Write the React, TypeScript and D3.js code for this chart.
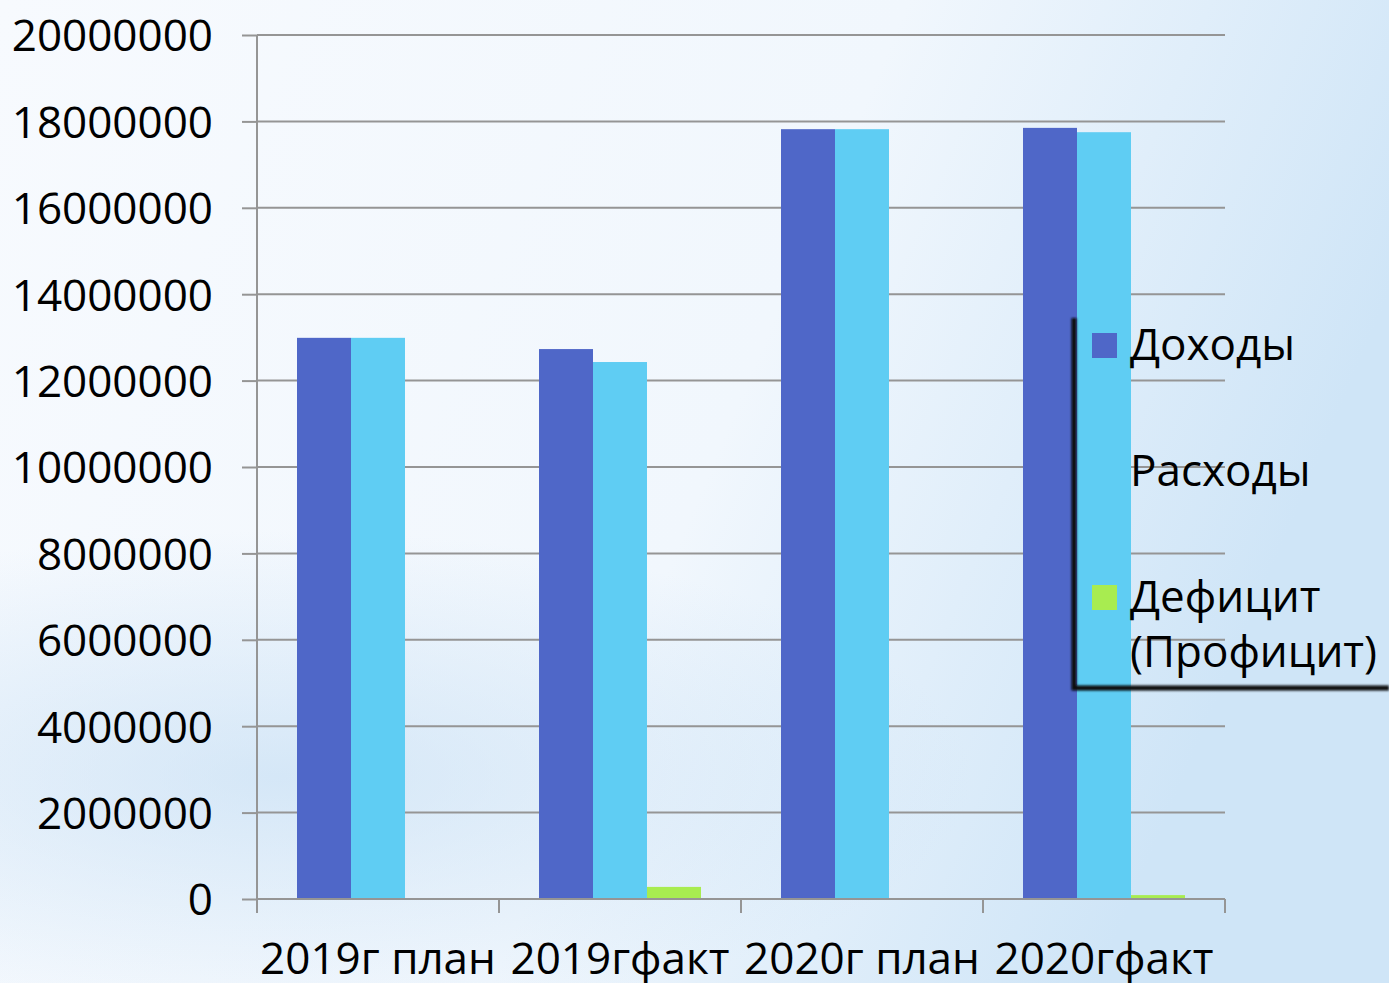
import React, { useEffect, useRef } from 'react';
import * as d3 from 'd3';

const categories = ['2019г план', '2019гфакт', '2020г план', '2020гфакт'];
const seriesNames = ['Доходы', 'Расходы', 'Дефицит (Профицит)'];
const incomes = [12990000, 12730000, 17820000, 17850000];
const expenses = [12990000, 12430000, 17820000, 17750000];
const deficit = [0, 280000, 0, 90000];
const yTicks = [0, 2000000, 4000000, 6000000, 8000000, 10000000, 12000000, 14000000, 16000000, 18000000, 20000000];
const colors = ['#4f67c8', '#5fcdf3', '#a8ec50'];

const W = 1389;
const H = 983;
const FONT = '"Open Sans", "Noto Sans", sans-serif';

export default function App() {
  const svgRef = useRef<SVGSVGElement>(null);

  useEffect(() => {
    if (!svgRef.current) return;
    const svg = d3.select(svgRef.current);
    svg.selectAll('*').remove();

    const margin = { top: 35, right: 164, bottom: 84, left: 257 };
    const innerW = W - margin.left - margin.right;
    const innerH = H - margin.top - margin.bottom;

    // background
    const defs = svg.append('defs');
    const bg = defs.append('linearGradient').attr('id', 'bg')
      .attr('x1', '0').attr('y1', '0').attr('x2', '1').attr('y2', '0.3');
    bg.append('stop').attr('offset', '0').attr('stop-color', '#f7fafe');
    bg.append('stop').attr('offset', '0.6').attr('stop-color', '#f1f7fd');
    bg.append('stop').attr('offset', '1').attr('stop-color', '#cfe5f7');
    const glow = defs.append('radialGradient').attr('id', 'glow')
      .attr('cx', '0.2').attr('cy', '0.78').attr('r', '0.5')
      .attr('gradientTransform', 'translate(0,0.4) scale(1,0.5)');
    glow.append('stop').attr('offset', '0').attr('stop-color', '#bcd9f2').attr('stop-opacity', 0.55);
    glow.append('stop').attr('offset', '1').attr('stop-color', '#bcd9f2').attr('stop-opacity', 0);
    const blur = defs.append('filter').attr('id', 'blur').attr('x', '-10%').attr('y', '-10%').attr('width', '120%').attr('height', '120%');
    blur.append('feGaussianBlur').attr('stdDeviation', 1.2);

    svg.append('rect').attr('width', W).attr('height', H).attr('fill', 'url(#bg)');
    svg.append('rect').attr('width', W).attr('height', H).attr('fill', 'url(#glow)');

    const x0 = d3.scaleBand().domain(categories).range([0, innerW]).paddingInner(0).paddingOuter(0);
    const groupPad = 40;
    const x1 = d3.scaleBand().domain(seriesNames).range([groupPad, x0.bandwidth() - groupPad]);
    const y = d3.scaleLinear().domain([0, 20000000]).range([innerH, 0]);

    const g = svg.append('g').attr('transform', `translate(${margin.left},${margin.top})`);

    // gridlines
    g.append('g').selectAll('line').data(yTicks).join('line')
      .attr('x1', 0).attr('x2', innerW)
      .attr('y1', d => y(d)).attr('y2', d => y(d))
      .attr('stroke', '#959595').attr('stroke-width', 2);

    // bars
    const values = [incomes, expenses, deficit];
    categories.forEach((c, i) => {
      seriesNames.forEach((s, j) => {
        const v = values[j][i];
        g.append('rect')
          .attr('x', (x0(c) || 0) + (x1(s) || 0))
          .attr('y', y(v))
          .attr('width', x1.bandwidth())
          .attr('height', innerH - y(v))
          .attr('fill', colors[j]);
      });
    });

    // y axis
    const yAxis = g.append('g').call(d3.axisLeft(y).tickValues(yTicks).tickSize(15).tickFormat(d3.format('d')));
    yAxis.select('.domain').attr('stroke', '#959595').attr('stroke-width', 2).attr('d', `M0,${innerH}V0`);
    yAxis.selectAll('.tick line').attr('stroke', '#959595').attr('stroke-width', 2);
    yAxis.selectAll('.tick text')
      .attr('x', -44)
      .attr('dy', '0.36em')
      .attr('fill', '#000')
      .style('font-family', FONT)
      .style('font-size', '44px');

    // x axis
    const xAxis = g.append('g').attr('transform', `translate(0,${innerH})`);
    xAxis.append('line').attr('x1', 0).attr('x2', innerW).attr('y1', 0).attr('y2', 0)
      .attr('stroke', '#959595').attr('stroke-width', 2);
    const bounds = categories.map(c => x0(c) || 0).concat([innerW]);
    xAxis.selectAll('line.tk').data(bounds).join('line').attr('class', 'tk')
      .attr('x1', d => d).attr('x2', d => d).attr('y1', 0).attr('y2', 14)
      .attr('stroke', '#959595').attr('stroke-width', 2);
    xAxis.selectAll('text').data(categories).join('text')
      .attr('x', d => (x0(d) || 0) + x0.bandwidth() / 2)
      .attr('y', 75)
      .attr('text-anchor', 'middle')
      .attr('fill', '#000')
      .style('font-family', FONT)
      .style('font-size', '44px')
      .text(d => d);

    // legend
    const lg = svg.append('g');
    lg.append('path')
      .attr('d', `M1074,318V688H${W}`)
      .attr('fill', 'none').attr('stroke', '#0a0a0a').attr('stroke-width', 5)
      .attr('filter', 'url(#blur)');
    const legendRows = [
      { lines: ['Доходы'], y: 345 },
      { lines: ['Расходы'], y: 471 },
      { lines: ['Дефицит', '(Профицит)'], y: 597 },
    ];
    legendRows.forEach((r, i) => {
      lg.append('rect').attr('x', 1092).attr('y', r.y - 12).attr('width', 25).attr('height', 25)
        .attr('fill', colors[i]);
      r.lines.forEach((t, k) => {
        lg.append('text')
          .attr('x', 1130).attr('y', r.y + 15 + k * 55)
          .attr('fill', '#000')
          .style('font-family', FONT)
          .style('font-size', '44px')
          .text(t);
      });
    });
  }, []);

  return (
    <svg
      ref={svgRef}
      width={W}
      height={H}
      style={{ position: 'absolute', left: 0, top: 0 }}
    />
  );
}
